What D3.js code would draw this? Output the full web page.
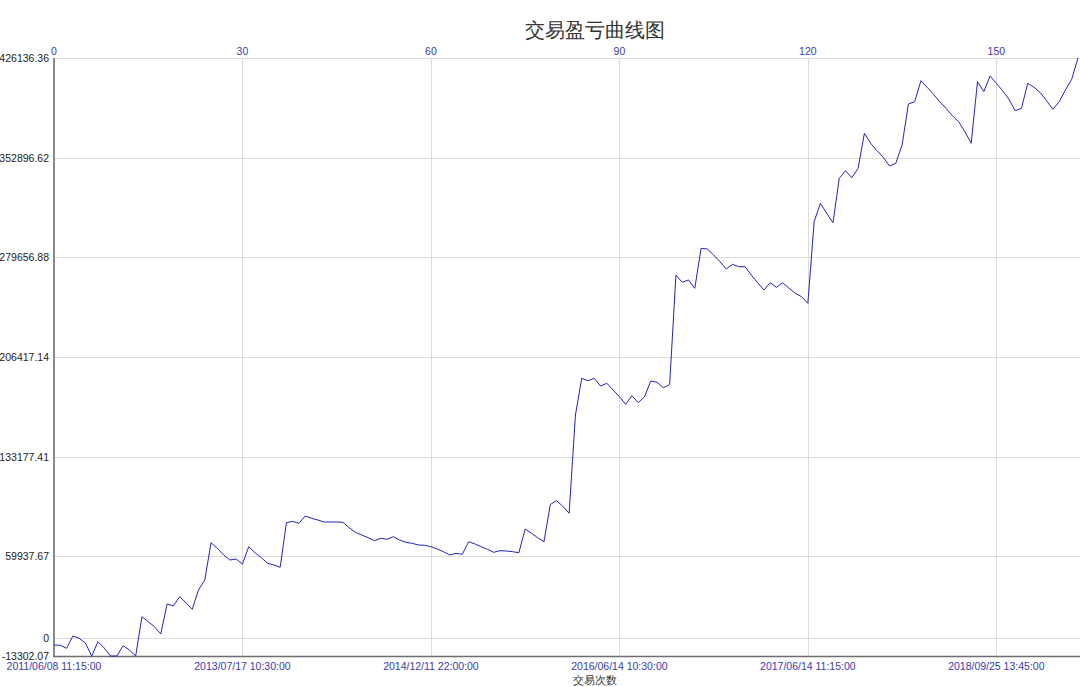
<!DOCTYPE html>
<html>
<head>
<meta charset="utf-8">
<script src="https://cdn.jsdelivr.net/npm/d3@7"></script>
<style>
  body { margin: 0; background: #fff; }
  svg { display: block; }
  text { font-family: "Liberation Sans", Arial, sans-serif; }
</style>
</head>
<body>
<div id="chart"></div>
<script>
'use strict';

// profit curve, one value per trade (index 0..163)
const profit = [
  -5217, -5438, -7642, 1396, -294, -3748, -13302.07, -2792, -7422, -13302,
  -13302, -5732, -8892, -13302, 15579, 11905, 8230, 2866, 24911, 23442,
  30276, 25867, 21017, 35200, 42548, 69958, 65843, 60920, 57245, 57980,
  54306, 67018, 62609, 58935, 54820, 53571, 51881, 84655, 85684, 84214,
  89579, 87889, 86639, 85170, 85170, 85170, 84949, 80909, 77600, 75616,
  73631, 71427, 73190, 72456, 74366, 71942, 70252, 69517, 68268, 68047,
  67018, 65328, 63344, 60919, 62169, 61434, 70693, 69003, 67018, 65108,
  62903, 64079, 63859, 63344, 62609, 80023, 76865, 73631, 70693, 98031,
  100822, 96706, 91563, 163796, 190767, 189003, 190767, 185108, 187093, 182169,
  177246, 171661, 177981, 172837, 177246, 188783, 187828, 183860, 186139, 266675,
  261311, 263001, 256901, 286296, 285781, 281372, 276449, 271084, 274538, 272775,
  272775, 266675, 261017, 255653, 261017, 257637, 261017, 256901, 253227, 250728,
  245878, 305842, 319364, 312015, 305107, 337735, 343320, 338176, 345084, 370803,
  363455, 358017, 353167, 346773, 348757, 362206, 392335, 394025, 409457, 404607,
  399463, 394025, 389175, 383737, 379328, 371979, 363455, 408722, 401373, 412910,
  407546, 402108, 395788, 387411, 389175, 407546, 404607, 400639, 394760, 388440,
  394025, 402623, 410486, 426136.36
];

const tradeTicks = [0, 30, 60, 90, 120, 150];
const dateLabels = [
  '2011/06/08 11:15:00', '2013/07/17 10:30:00', '2014/12/11 22:00:00',
  '2016/06/14 10:30:00', '2017/06/14 11:15:00', '2018/09/25 13:45:00'
];
const yMin = -13302.07;
const yMax = 426136.36;
const yTickCount = 6;

const W = 1080, H = 687;
const margin = { left: 54, right: 2, top: 58, bottom: 31 };

const $svg = d3.select('#chart').append('svg')
  .attr('width', W).attr('height', H);

const x = d3.scaleLinear()
  .domain([0, profit.length - 1])
  .range([margin.left, W - margin.right]);
const y = d3.scaleLinear()
  .domain([yMin, yMax])
  .range([H - margin.bottom, margin.top]);

const step = (yMax - yMin) / yTickCount;
const yTicks = d3.range(yTickCount + 1).map((k) => yMin + k * step);

// horizontal grid (incl. zero line)
const $grid = $svg.append('g').attr('class', 'grid');
$grid.selectAll('.hline')
  .data(yTicks.concat([0]))
  .enter()
  .append('line')
  .attr('x1', margin.left).attr('x2', W)
  .attr('y1', (d) => Math.round(y(d)) + 0.5)
  .attr('y2', (d) => Math.round(y(d)) + 0.5)
  .attr('stroke', '#dcdcdc');

$grid.selectAll('.vline')
  .data(tradeTicks.slice(1))
  .enter()
  .append('line')
  .attr('x1', (d) => Math.round(x(d)) + 0.5)
  .attr('x2', (d) => Math.round(x(d)) + 0.5)
  .attr('y1', margin.top).attr('y2', H - margin.bottom)
  .attr('stroke', '#dcdcdc');

// axis lines
$svg.append('line')
  .attr('x1', margin.left).attr('x2', margin.left)
  .attr('y1', margin.top).attr('y2', H - margin.bottom)
  .attr('stroke', '#8a8a8a').attr('stroke-width', 2);
$svg.append('line')
  .attr('x1', margin.left - 1).attr('x2', W)
  .attr('y1', H - margin.bottom + 0.5).attr('y2', H - margin.bottom + 0.5)
  .attr('stroke', '#6e6e6e').attr('stroke-width', 1.5);

// left labels
$svg.append('g').selectAll('text')
  .data(yTicks.concat([0]))
  .enter()
  .append('text')
  .attr('x', margin.left - 5)
  .attr('y', (d) => y(d) + 4)
  .attr('text-anchor', 'end')
  .attr('font-size', 10.5)
  .attr('fill', '#222')
  .text((d) => d === 0 ? '0' : d.toFixed(2));

// top trade index labels
$svg.append('g').selectAll('text')
  .data(tradeTicks)
  .enter()
  .append('text')
  .attr('x', (d) => x(d))
  .attr('y', margin.top - 3)
  .attr('text-anchor', 'middle')
  .attr('font-size', 10.5)
  .attr('fill', '#3a3ab0')
  .text((d) => d);

// bottom date labels
$svg.append('g').selectAll('text')
  .data(tradeTicks)
  .enter()
  .append('text')
  .attr('x', (d) => x(d))
  .attr('y', H - margin.bottom + 14)
  .attr('text-anchor', 'middle')
  .attr('font-size', 10.5)
  .attr('fill', '#3a3ab0')
  .text((d, i) => dateLabels[i]);

// curve
const line = d3.line()
  .x((d, i) => x(i))
  .y((d) => y(d));
$svg.append('path')
  .datum(profit)
  .attr('d', line)
  .attr('fill', 'none')
  .attr('stroke', '#2424b8')
  .attr('stroke-width', 1)
  .attr('stroke-linejoin', 'round');

// titles
$svg.append('text')
  .attr('x', 595).attr('y', 37)
  .attr('text-anchor', 'middle')
  .attr('font-size', 20)
  .attr('font-family', '"Noto Sans CJK SC", sans-serif')
  .attr('fill', '#333')
  .text('交易盈亏曲线图');

$svg.append('text')
  .attr('x', 595).attr('y', 684)
  .attr('text-anchor', 'middle')
  .attr('font-size', 11)
  .attr('font-family', '"Noto Sans CJK SC", sans-serif')
  .attr('fill', '#333')
  .text('交易次数');
</script>
</body>
</html>
